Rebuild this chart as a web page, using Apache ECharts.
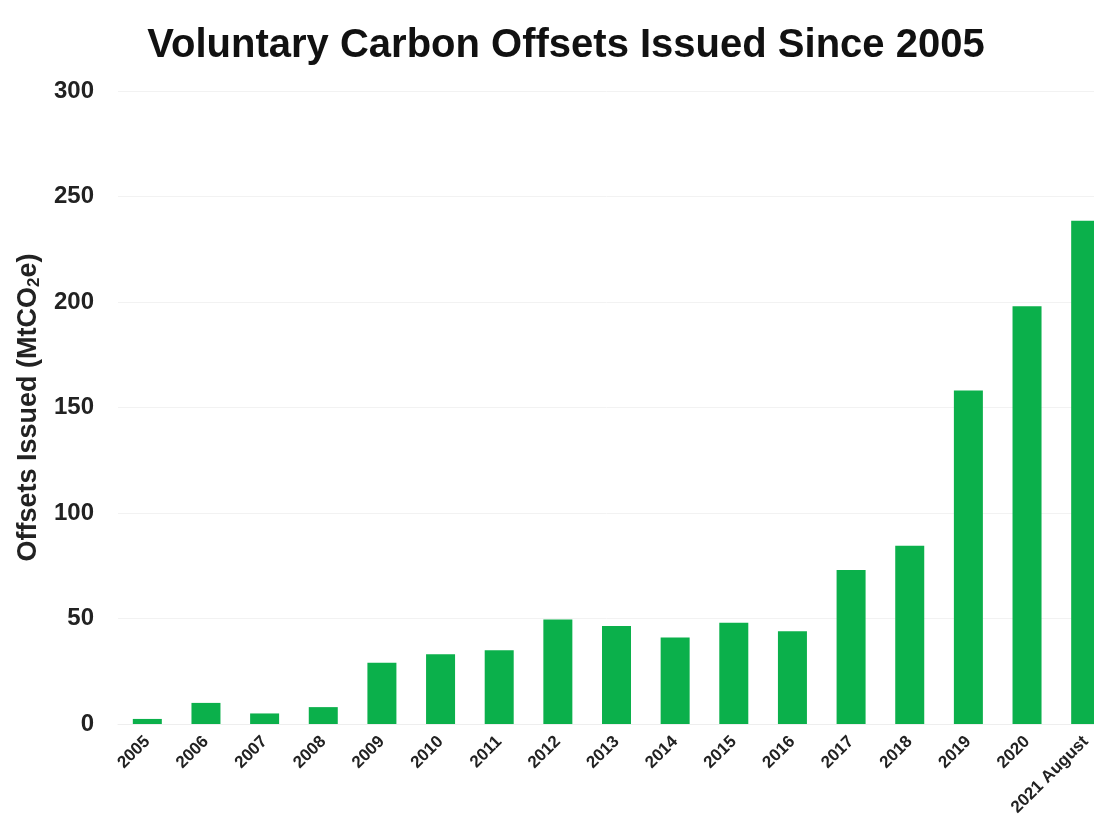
<!DOCTYPE html>
<html>
<head>
<meta charset="utf-8">
<script src="https://cdn.jsdelivr.net/npm/echarts@6/dist/echarts.min.js"></script>
<style>
html,body{margin:0;padding:0;background:#fff;overflow:hidden;}
#c{width:1094px;height:827px;}
</style>
</head>
<body>
<div id="c"></div>
<script>
const categories = ['2005','2006','2007','2008','2009','2010','2011','2012','2013','2014','2015','2016','2017','2018','2019','2020','2021 August'];
const offsetsIssued = [2.4, 10, 5, 8, 29, 33, 35, 49.5, 46.5, 41, 48, 44, 73, 84.5, 158, 198, 238.5];
const yTicks = [0, 50, 100, 150, 200, 250, 300];

const FONT = '"Liberation Sans", Arial, sans-serif';
const chart = echarts.init(document.getElementById('c'));
chart.setOption({
  backgroundColor: '#ffffff',
  animation: false,
  title: {
    text: 'Voluntary Carbon Offsets Issued Since 2005',
    left: 561, top: 21,
    textAlign: 'center',
    textStyle: {fontFamily: FONT, fontSize: 40, fontWeight: 'bold', color: '#111'}
  },
  grid: {left: 118, top: 91, width: 997, height: 633, outerBoundsMode: 'none', containLabel: false},
  xAxis: {
    type: 'category',
    data: categories,
    axisLine: {show: true, lineStyle: {color: '#eeeeee', width: 1}},
    axisTick: {show: false},
    axisLabel: {
      interval: 0, rotate: 45, margin: 15,
      fontFamily: FONT, fontSize: 17, fontWeight: 'bold', color: '#222'
    }
  },
  yAxis: {
    type: 'value',
    min: yTicks[0], max: yTicks[yTicks.length - 1], interval: 50,
    name: '{a|Offsets Issued (MtCO}{b|2}{a|e)}',
    nameLocation: 'middle',
    nameRotate: 90,
    nameGap: 72,
    nameTextStyle: {
      rich: {
        a: {fontFamily: FONT, fontSize: 27, fontWeight: 'bold', color: '#222'},
        b: {fontFamily: FONT, fontSize: 17, fontWeight: 'bold', color: '#222', padding: [12, 0, 0, 0]}
      }
    },
    axisLine: {show: false},
    axisTick: {show: false},
    splitLine: {show: true, lineStyle: {color: '#f2f2f2', width: 1}},
    axisLabel: {
      margin: 24,
      fontFamily: FONT, fontSize: 24, fontWeight: 'bold', color: '#222'
    }
  },
  series: [{
    type: 'bar',
    data: offsetsIssued,
    barWidth: 29,
    itemStyle: {color: '#0bb04b'}
  }]
});
</script>
</body>
</html>
